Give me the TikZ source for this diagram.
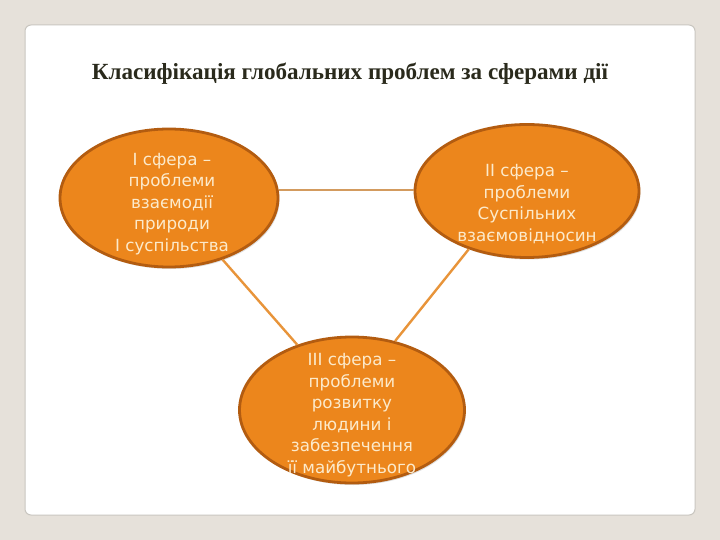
\documentclass[tikz,border=0pt]{standalone}
\usepackage{fontspec}
\setmainfont{Liberation Serif}
\newfontfamily\ellfont{DejaVu Sans}
\usetikzlibrary{shapes.geometric,shadows}
\definecolor{bgc}{HTML}{E6E1DA}
\definecolor{cardline}{HTML}{C9C6C0}
\definecolor{orfill}{HTML}{EC861C}
\definecolor{ordraw}{HTML}{B35C10}
\definecolor{txtc}{HTML}{FCEACB}
\definecolor{linkc}{HTML}{E8943A}
\definecolor{linkh}{HTML}{D39B5E}
\definecolor{titlec}{HTML}{2A2A1C}
\tikzset{
  sphere/.style={ellipse, draw=ordraw, line width=2.8bp, fill=orfill,
    drop shadow={shadow xshift=1.5bp, shadow yshift=-2bp, opacity=0.25}},
  spheretext/.style={align=center, text=txtc, font=\ellfont\fontsize{16.8}{21.6}\selectfont},
  link/.style={draw=linkc, line width=2.4bp},
  hlink/.style={draw=linkh, line width=2.2bp}
}
\begin{document}
\begin{tikzpicture}[x=1bp,y=-1bp]
\useasboundingbox (0,0) rectangle (720,540);
\fill[bgc] (0,0) rectangle (720,540);
\draw[cardline, fill=white, line width=1bp, rounded corners=6bp] (25,25) rectangle (695,515);
\node[font=\bfseries\fontsize{23.2}{27}\selectfont, text=titlec] (title) at (350,74) {Класифікація глобальних проблем за сферами дії};
\node[sphere, minimum width=218bp, minimum height=138bp] (e1) at (169,198) {};
\node[sphere, minimum width=224bp, minimum height=133bp] (e2) at (527,191) {};
\node[sphere, minimum width=225bp, minimum height=146bp] (e3) at (352,410) {};
\node[spheretext] (t1) at (172,204) {I сфера –\\проблеми\\взаємодії\\природи\\I суспільства};
\node[spheretext] (t2) at (527,204) {II сфера –\\проблеми\\Суспільних\\взаємовідносин};
\node[spheretext] (t3) at (352,415) {III сфера –\\проблеми\\розвитку\\людини і\\забезпечення\\її майбутнього};
\draw[hlink] (e1.4) -- (e1.4 -| e2.west);
\draw[link] (e1.-49) -- (e3.130);
\draw[link] (e2.-135) -- (e3.58);
\end{tikzpicture}
\end{document}
